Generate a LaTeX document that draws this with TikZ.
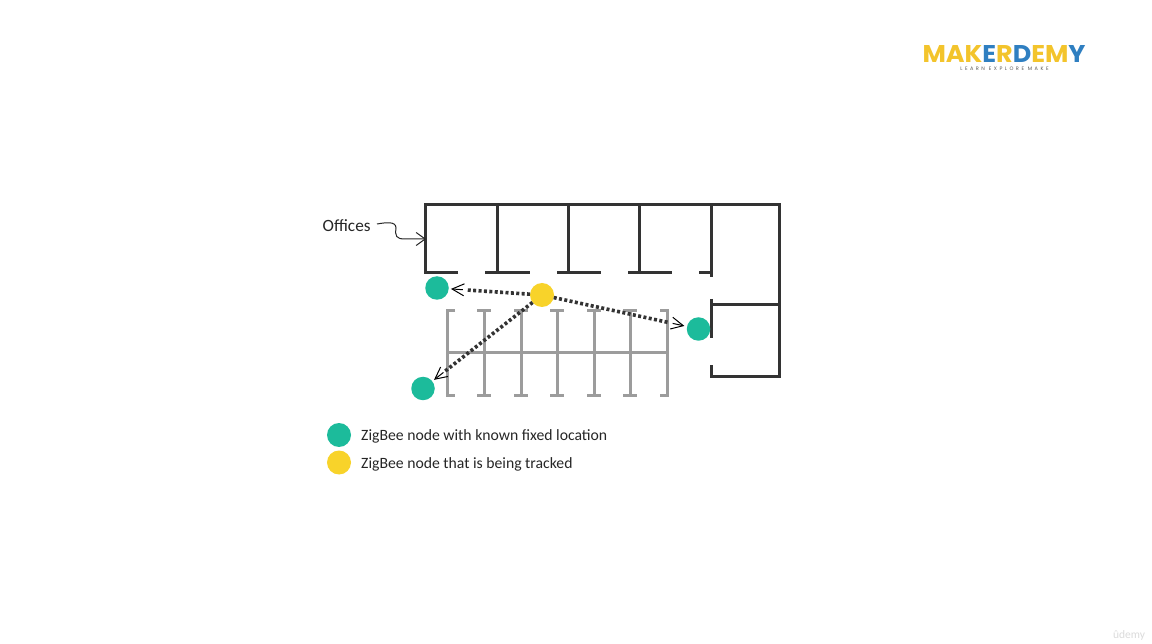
\documentclass[tikz,border=0pt]{standalone}
\usepackage{fontspec}
\usepackage{graphicx}
\setmainfont{Carlito}
\newfontfamily\logofont{Poppins}
\newfontfamily\tagfont[LetterSpace=50]{Poppins}
\usetikzlibrary{arrows.meta,calc}
\definecolor{wallc}{HTML}{333333}
\definecolor{shelfc}{HTML}{9C9C9C}
\definecolor{fixedc}{HTML}{1CBB9B}
\definecolor{trackc}{HTML}{F8D32A}
\definecolor{logoy}{HTML}{F3C42C}
\definecolor{logob}{HTML}{2F7FC1}
\tikzset{
  wall/.style={draw=wallc,line width=3pt,line join=miter},
  shelf/.style={draw=shelfc,line width=3pt},
  fixednode/.style={circle,fill=fixedc,minimum size=23.5pt,inner sep=0pt,outer sep=0pt},
  tracknode/.style={circle,fill=trackc,minimum size=24pt,inner sep=0pt,outer sep=0pt},
  link/.style={draw=wallc,line width=3.6pt,dash pattern=on 3pt off 2.4pt},
  linktip/.style={draw=black,line width=1pt,-{Straight Barb[length=12pt,width=12pt,line width=1pt]}},
  lbl/.style={anchor=west,inner sep=0pt,text=black!85,font=\fontsize{15.7}{18}\selectfont},
  callout/.style={draw=black!85,line width=1pt,-{Straight Barb[length=9pt,width=13pt,line width=1pt]}}
}
\newcommand{\shelfpost}[1]{\draw[shelf] (#1-7,311)--(#1+7,311) (#1,311)--(#1,396) (#1-7,396)--(#1+7,396);}
\begin{document}
\begin{tikzpicture}[x=1pt,y=-1pt]
\useasboundingbox (0,0) rectangle (1152,644);
\fill[white] (0,0) rectangle (1152,644);
% building
\draw[wall] (458,272.3)--(425.7,272.3)--(425.7,204.3)--(779.7,204.3)--(779.7,377)--(711,377)--(711,365);
\draw[wall] (497,204.3)--(497,272.3) (485,272.3)--(530,272.3);
\draw[wall] (568,204.3)--(568,272.3) (557,272.3)--(601,272.3);
\draw[wall] (639,204.3)--(639,272.3) (628,272.3)--(672,272.3);
\draw[wall] (711,204.3)--(711,277) (699,272.3)--(711,272.3);
\draw[wall] (711,299)--(711,338) (711,305)--(779.7,305);
% shelves
\draw[shelf] (455,311)--(447,311)--(447,396)--(455,396);
\shelfpost{484}\shelfpost{521}\shelfpost{557}\shelfpost{594}\shelfpost{630}
\draw[shelf] (660,311)--(667,311)--(667,396)--(660,396);
\draw[shelf] (447,352.5)--(667,352.5);
% nodes
\node[fixednode] (gl) at (437,288) {};
\node[fixednode] (gr) at (698.5,329) {};
\node[fixednode] (gb) at (423,388.5) {};
\node[tracknode] (yc) at (542,295) {};
\draw[link,shorten >=19pt] (yc)--(gl);
\draw[link,shorten >=19pt] (yc)--(gr);
\draw[link,shorten >=16pt] (yc)--(gb);
\draw[linktip] ($(gl)!26pt!(yc)$)--($(gl)!14pt!(yc)$);
\draw[linktip] ($(gr)!26.5pt!(yc)$)--($(gr)!14.5pt!(yc)$);
\draw[linktip] ($(gb)!26pt!(yc)$)--($(gb)!14pt!(yc)$);
% offices label
\node[lbl,font=\fontsize{17.2}{20}\selectfont] (off) at (322.5,226) {Offices};
\coordinate (offtip) at (426,239);
\draw[callout] (377,224) .. controls (386,222.5) and (396,221) .. (396,228)
  .. controls (395,236) and (396,239) .. (405,239) -- (offtip);
% legend
\node[fixednode,minimum size=24pt] (lg) at (339,435) {};
\node[tracknode] (ly) at (339,462.5) {};
\node[lbl] (lgt) at (361,436) {ZigBee node with known fixed location};
\node[lbl] (lyt) at (361,464) {ZigBee node that is being tracked};
% logo
\node[inner sep=0pt] (logo) at (1004,54) {\resizebox{163pt}{17pt}{\logofont\bfseries
  \textcolor{logoy}{MA}\textcolor{logoy}{K}\textcolor{logob}{E}\textcolor{logoy}{R}\textcolor{logob}{D}\textcolor{logoy}{E}\textcolor{logoy}{M}\textcolor{logob}{Y}}};
\node[inner sep=0pt,text=black!65,font=\tagfont\fontsize{5}{5}\selectfont] (tag) at (1004.5,68.5) {LEARN EXPLORE MAKE};
% watermark
\node[inner sep=0pt,text=black!14,font=\fontsize{11.5}{13}\selectfont] (wm) at (1129,635.5) {ûdemy};
\end{tikzpicture}
\end{document}
